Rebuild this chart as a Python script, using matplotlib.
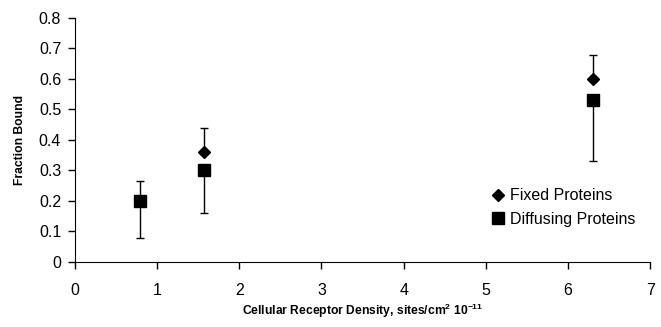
import matplotlib.pyplot as plt

# data
density = [0.79, 1.57, 6.30]
fixed = [0.20, 0.36, 0.60]
fixed_err_up = [0.065, 0.08, 0.08]
diffusing = [0.20, 0.30, 0.53]
diffusing_err_down = [0.12, 0.14, 0.20]

plt.rcParams['font.family'] = ['Liberation Sans', 'DejaVu Sans']
plt.rcParams['mathtext.fontset'] = 'custom'
plt.rcParams['mathtext.bf'] = 'Liberation Sans:bold'
plt.rcParams['mathtext.rm'] = 'Liberation Sans'

fig = plt.figure(figsize=(6.61, 3.27), dpi=100)
ax = fig.add_axes([0.1135, 0.199, 0.87, 0.746])

# error bars: fixed go up, diffusing go down
ax.errorbar(density, fixed, yerr=[[0, 0, 0], fixed_err_up], fmt='none',
            ecolor='black', elinewidth=1, capsize=3, capthick=1)
ax.errorbar(density, diffusing, yerr=[diffusing_err_down, [0, 0, 0]], fmt='none',
            ecolor='black', elinewidth=1, capsize=3, capthick=1)
ax.plot(density, fixed, 'D', color='black', markersize=6.5, label='Fixed Proteins')
ax.plot(density, diffusing, 's', color='black', markersize=9, label='Diffusing Proteins')

ax.set_xlim(0, 7)
ax.set_ylim(0, 0.8)
ax.set_xticks(range(0, 8))
ax.set_yticks([0, 0.1, 0.2, 0.3, 0.4, 0.5, 0.6, 0.7, 0.8])
ax.set_yticklabels(['0', '0.1', '0.2', '0.3', '0.4', '0.5', '0.6', '0.7', '0.8'])
ax.tick_params(direction='out', length=5, width=1, labelsize=11.5)
ax.tick_params(axis='x', pad=10)
ax.tick_params(axis='y', pad=5)
for s in ['top', 'right']:
    ax.spines[s].set_visible(False)

ax.set_ylabel('Fraction Bound', fontsize=8.7, fontweight='bold', labelpad=9)
ax.set_xlabel(r'Cellular Receptor Density, sites/cm$^\mathbf{2}$ 10$^\mathbf{-11}$',
              fontsize=8.7, fontweight='bold', labelpad=3)

ax.legend(loc='upper left', bbox_to_anchor=(0.712, 0.335), frameon=False,
          fontsize=11.5, handlelength=0.7, handletextpad=0.4, borderpad=0,
          labelspacing=0.55)

plt.savefig('out.png', dpi=100)
